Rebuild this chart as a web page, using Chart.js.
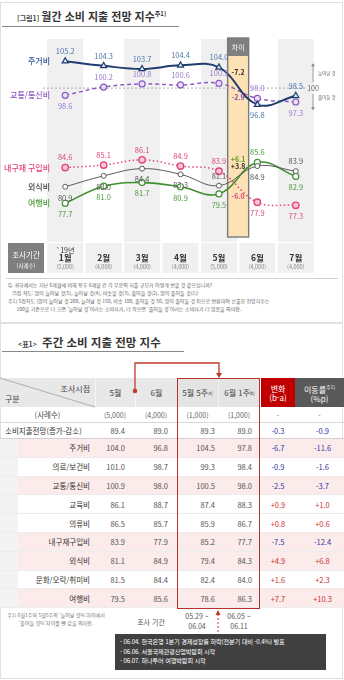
<!DOCTYPE html>
<html lang="ko">
<head>
<meta charset="utf-8">
<script src="https://cdn.jsdelivr.net/npm/chart.js@4.4.1/dist/chart.umd.min.js"></script>
<style>
  body { margin: 0; width: 344px; height: 680px; background: #fff; position: relative; overflow: hidden;
         font-family: "Noto Sans CJK KR", "Noto Sans", sans-serif; color: #333; }
  .abs { position: absolute; }
  .frame { position: absolute; left: 0; width: 343px; border: 1px solid #e0e0e0; box-sizing: border-box; }
  .title { position: absolute; white-space: nowrap; font-weight: bold; color: #333; }
  .title small { font-size: 7px; font-weight: bold; color: #444; margin-right: 2px; }
  .title sup { font-size: 6px; }
  .notes { position: absolute; left: 8px; top: 281px; font-size: 5px; line-height: 8px; color: #666; white-space: nowrap; }
  .row { position: absolute; left: 0; width: 344px; }
  .c { position: absolute; top: 0; height: 100%; display: flex; align-items: center; box-sizing: border-box;
       font-size: 7.5px; color: #555; white-space: nowrap; }
  .hd { color: #444; font-size: 8px; justify-content: center; }
  .hd sup { font-size: 5px; }
  .pos { color: #d03030; }
  .neg { color: #3535a8; }
  #events { position: absolute; left: 115px; top: 634px; width: 211px; height: 36px; background: #404040; color: #fff;
            font-size: 6.2px; line-height: 9.5px; padding: 3px 5px; box-sizing: border-box; white-space: nowrap; letter-spacing: -0.15px; }
</style>
</head>
<body>
<div class="frame" style="top:2px;height:321px;"></div>
<div class="title" style="left:17px;top:8px;font-size:11px;"><small>[그림1]</small>월간 소비 지출 전망 지수<sup>주1)</sup></div>
<div class="abs" style="left:2px;top:26px;width:177px;height:1px;background:#888;"></div>
<canvas id="monthlyChart" class="abs" style="left:0;top:30px;" width="344" height="246"></canvas>
<div class="abs" style="left:6px;top:278px;width:332px;height:1px;background:#d0d0d0;"></div>
<div class="notes">
  Q. 귀하께서는 지난 6개월에 비해 향후 6개월 간 각 부문의 지출 규모가 어떻게 변할 것 같으십니까?<br>
  &nbsp;&nbsp;&nbsp;[5점 척도: 많이 늘어날 것(5), 늘어날 것(4), 비슷할 것(3), 줄어들 것(2), 많이 줄어들 것(1)]<br>
  주1) 5점척도 (많이 늘어날 것 200, 늘어날 것 150, 비슷 100, 줄어들 것 50, 많이 줄어들 것 0)으로 변환하여 산출한 전망지수는<br>
  &nbsp;&nbsp;&nbsp;&nbsp;&nbsp;&nbsp;100을 기준으로 더 크면 '늘어날 것'이라는 소비자가, 더 작으면 '줄어들 것'이라는 소비자가 더 많음을 의미함.
</div>

<div class="frame" style="top:323px;height:356px;"></div>
<div class="title" style="left:18px;top:334px;font-size:11.5px;"><small>&lt;표1&gt;</small> 주간 소비 지출 전망 지수</div>
<div class="abs" style="left:2px;top:351px;width:182px;height:1px;background:#888;"></div>
<div id="table"></div>
<div class="abs" style="left:177px;top:378px;width:83px;height:231px;border:1.5px solid #b8312f;box-sizing:border-box;"></div>

<div class="abs" style="left:4px;top:611px;width:104px;text-align:center;font-size:5px;line-height:7.5px;color:#777;">
  주1) 6월1주와 5월5주의 '늘어날 것%'차이에서<br>'줄어들 것%'차이를 뺀 값을 의미함.
</div>
<div class="abs" style="left:136px;top:617px;width:30px;text-align:center;font-size:7px;color:#555;">조사 기간</div>
<div class="abs" style="left:180px;top:611px;width:34px;text-align:center;font-size:7px;line-height:10px;color:#555;">05.29 ~<br>06.04</div>
<div class="abs" style="left:222px;top:611px;width:34px;text-align:center;font-size:7px;line-height:10px;color:#555;">06.05 ~<br>06.11</div>
<div id="events"></div>

<svg class="abs" style="left:0;top:0;" width="344" height="680">
  <line x1="0" y1="378" x2="95" y2="407" stroke="#a0a0a0" stroke-width="0.8"/>
  <polyline points="135,391 135,363 219,363 219,374" fill="none" stroke="#c0392b" stroke-width="1.3"/>
  <polygon points="216,373 222,373 219,378" fill="#c0392b"/>
  <circle cx="135" cy="391" r="2.3" fill="#c0392b"/>
  <line x1="218" y1="614" x2="218" y2="634" stroke="#c0392b" stroke-width="1" stroke-dasharray="2,2"/>
  <polygon points="215.5,615 220.5,615 218,610" fill="#c0392b"/>
</svg>

<script>
// monthly chart data
const months = ["1월", "2월", "3월", "4월", "5월", "6월", "7월"];
const yearLabel = "`19년";
const sampleSizes = ["(5,000)", "(4,000)", "(4,000)", "(4,000)", "(5,000)", "(4,000)", "(4,000)"];
const seriesNames = ["주거비", "교통/통신비", "내구재 구입비", "외식비", "여행비"];
const housing = [105.2, 104.3, 103.7, 104.4, 104.0, 96.8, 98.5];
const transport = [98.6, 100.2, 100.8, 100.6, 100.9, 98.0, 97.3];
const durables = [84.6, 85.1, 86.1, 84.9, 83.9, 77.9, 77.3];
const dining = [80.9, 83.0, 84.4, 83.3, 81.1, 84.9, 83.9];
const travel = [77.7, 81.0, 81.7, 80.9, 79.5, 85.6, 82.9];
const diffLabels = ["-7.2", "-2.9", "-6.0", "+3.8", "+6.1"];

// weekly table data
const tableRows = ["소비지출전망(증가-감소)", "주거비", "의료/보건비", "교통/통신비", "교육비", "의류비",
  "내구재구입비", "외식비", "문화/오락/취미비", "여행비"];
const tableCounts = ["(5,000)", "(4,000)", "(1,000)", "(1,000)", "-", "-"];
const mayMonth = [89.4, 104.0, 101.0, 100.9, 86.1, 86.5, 83.9, 81.1, 81.5, 79.5];
const junMonth = [89.0, 96.8, 98.7, 98.0, 88.7, 85.7, 77.9, 84.9, 84.4, 85.6];
const mayWeek5 = [89.3, 104.5, 99.3, 100.5, 87.4, 85.9, 85.2, 79.4, 82.4, 78.6];
const junWeek1 = [89.0, 97.8, 98.4, 98.0, 88.3, 86.7, 77.7, 84.3, 84.0, 86.3];
const change = ["-0.3", "-6.7", "-0.9", "-2.5", "+0.9", "+0.8", "-7.5", "+4.9", "+1.6", "+7.7"];
const moveRate = ["-0.9", "-11.6", "-1.6", "-3.7", "+1.0", "+0.6", "-12.4", "+6.8", "+2.3", "+10.3"];
const events = [
  "- 06.04. 한국은행 1분기 경제성장률 하락(전분기 대비 -0.4%) 발표",
  "- 06.06. 서울국제관광산업박람회 시작",
  "- 06.07. 하나투어 여행박람회 시작"
];

const FONT = '"Noto Sans CJK KR", sans-serif';
const lineColors = ["#1f3d6e", "#8a5bc4", "#e0457b", "#5a5a5a", "#3f8f2f"];
const labelColors = ["#4a78ac", "#9a78cc", "#e0457b", "#555555", "#4a9a3a"];
const nameColors = ["#2f5597", "#8e5cc4", "#e8407a", "#404040", "#4a9a3a"];
const diffColors = ["#333333", "#8a4fa8", "#e0457b", "#333333", "#5a9a2a"];
// -1 = label above the point, 1 = below
const labelSide = [
  [-1, -1, -1, -1, -1, 1, -1],
  [1, -1, -1, -1, -1, -1, 1],
  [-1, -1, -1, -1, -1, 1, 1],
  [1, 1, 1, 1, -1, 1, -1],
  [1, 1, 1, 1, 1, -1, 1]
];
const diffAnchor = [103.0, 98.2, 79.1, 84.9, 86.2];

// bands, diff box, month row and labels
const decor = {
  id: "decor",
  beforeDatasetsDraw(chart) {
    const { ctx, chartArea: a, scales: { x, y } } = chart;
    const step = x.getPixelForValue(1) - x.getPixelForValue(0);
    ctx.save();
    ctx.fillStyle = "#f0f0f0";
    months.forEach((m, i) => {
      if (i % 2 === 0) ctx.fillRect(x.getPixelForValue(i) - step / 2 + 1.2, a.top, step - 2.4, a.bottom - a.top);
    });

    // 100 reference line
    const y100 = y.getPixelForValue(100);
    ctx.strokeStyle = "#9a9a9a";
    ctx.lineWidth = 0.8;
    ctx.setLineDash([2, 2]);
    ctx.beginPath();
    ctx.moveTo(a.left - 3, y100);
    ctx.lineTo(a.right - 8, y100);
    ctx.stroke();
    ctx.setLineDash([]);

    // right side arrow
    const ax = a.right - 2;
    ctx.strokeStyle = "#888";
    ctx.fillStyle = "#888";
    ctx.lineWidth = 0.8;
    const yTop = y.getPixelForValue(104.8), yBot = y.getPixelForValue(95.7);
    ctx.beginPath();
    ctx.moveTo(ax, yTop + 2); ctx.lineTo(ax, y100 - 6);
    ctx.moveTo(ax, y100 + 6); ctx.lineTo(ax, yBot - 2);
    ctx.stroke();
    ctx.beginPath();
    ctx.moveTo(ax - 2, yTop + 3); ctx.lineTo(ax + 2, yTop + 3); ctx.lineTo(ax, yTop); ctx.fill();
    ctx.beginPath();
    ctx.moveTo(ax - 2, yBot - 3); ctx.lineTo(ax + 2, yBot - 3); ctx.lineTo(ax, yBot); ctx.fill();
    ctx.fillStyle = "#666";
    ctx.font = "7px " + FONT;
    ctx.textAlign = "center";
    ctx.textBaseline = "middle";
    ctx.fillText("100", ax, y100);
    ctx.font = "4.5px " + FONT;
    ctx.textAlign = "left";
    ctx.fillText("늘어날 것", ax + 5, y.getPixelForValue(102.9));
    ctx.fillText("줄어들 것", ax + 5, y.getPixelForValue(98.2));

    // diff box between May and June
    const cx = (x.getPixelForValue(4) + x.getPixelForValue(5)) / 2;
    const top = a.top - 1, bottom = a.bottom - 5;
    ctx.fillStyle = "#fde2b6";
    ctx.fillRect(cx - 10.5, top, 21, bottom - top);
    ctx.fillStyle = "#808080";
    ctx.fillRect(cx - 10.5, top, 21, 18);
    ctx.strokeStyle = "#7a7a7a";
    ctx.lineWidth = 1.4;
    ctx.strokeRect(cx - 10.5, top, 21, bottom - top);
    ctx.fillStyle = "#fff";
    ctx.font = "7px " + FONT;
    ctx.textAlign = "center";
    ctx.fillText("차이", cx, top + 9);

    // month row
    const rowTop = a.bottom + 1, rowH = 30;
    ctx.fillStyle = "#7f7f7f";
    ctx.fillRect(8, rowTop, 36, rowH);
    ctx.fillStyle = "#fff";
    ctx.font = "7.5px " + FONT;
    ctx.fillText("조사기간", 26, rowTop + 12);
    ctx.font = "5.5px " + FONT;
    ctx.fillText("(사례수)", 26, rowTop + 23);
    months.forEach((m, i) => {
      const px = x.getPixelForValue(i);
      ctx.fillStyle = "#f0f0f0";
      ctx.fillRect(px - step / 2 + 1.2, rowTop, step - 2.4, rowH);
      if (i === 0) {
        ctx.fillStyle = "#333";
        ctx.font = "7px " + FONT;
        ctx.fillText(yearLabel, px, rowTop + 7);
      }
      ctx.fillStyle = "#333";
      ctx.font = "bold 8.5px " + FONT;
      ctx.fillText(m, px, rowTop + 15);
      ctx.fillStyle = "#888";
      ctx.font = "5.5px " + FONT;
      ctx.fillText(sampleSizes[i], px, rowTop + 24);
    });
    ctx.restore();
  },
  afterDatasetsDraw(chart) {
    const { ctx, chartArea: a, scales: { x, y } } = chart;
    ctx.save();
    ctx.textAlign = "center";
    ctx.textBaseline = "middle";
    chart.data.datasets.forEach((ds, di) => {
      const meta = chart.getDatasetMeta(di);
      ctx.fillStyle = labelColors[di];
      ctx.font = "7.5px " + FONT;
      meta.data.forEach((pt, i) => {
        const side = labelSide[di][i];
        ctx.fillText(ds.data[i].toFixed(1), pt.x, pt.y + (side < 0 ? -10 : 11));
      });
      // series name on the left
      ctx.textAlign = "right";
      ctx.fillStyle = nameColors[di];
      ctx.font = "500 8px " + FONT;
      ctx.fillText(seriesNames[di], a.left + 4, y.getPixelForValue(ds.data[0]));
      ctx.textAlign = "center";
    });
    // diff values in the box
    const cx = (x.getPixelForValue(4) + x.getPixelForValue(5)) / 2;
    diffLabels.forEach((t, i) => {
      const order = [0, 1, 2, 3, 4][i];
      ctx.fillStyle = diffColors[order];
      ctx.font = "bold 7px " + FONT;
      ctx.fillText(t, cx, y.getPixelForValue(diffAnchor[i]));
    });
    ctx.restore();
  }
};

new Chart(document.getElementById("monthlyChart"), {
  type: "line",
  data: {
    labels: months,
    datasets: [
      { label: seriesNames[0], data: housing, borderColor: lineColors[0], borderWidth: 2, tension: 0.4,
        pointStyle: "triangle", pointRadius: 3.5, pointBackgroundColor: "#dce6f2", pointBorderColor: lineColors[0], pointBorderWidth: 1.2 },
      { label: seriesNames[1], data: transport, borderColor: lineColors[1], borderWidth: 1.5, borderDash: [4, 3], tension: 0.4,
        pointRadius: 3, pointBackgroundColor: "#eadff7", pointBorderColor: lineColors[1], pointBorderWidth: 1.2 },
      { label: seriesNames[2], data: durables, borderColor: lineColors[2], borderWidth: 1.5, borderDash: [1.5, 2.5], tension: 0.4,
        pointRadius: 3.2, pointBackgroundColor: "#f7c6d8", pointBorderColor: lineColors[2], pointBorderWidth: 1.4 },
      { label: seriesNames[3], data: dining, borderColor: lineColors[3], borderWidth: 1, tension: 0.4,
        pointRadius: 2.5, pointBackgroundColor: "#fff", pointBorderColor: lineColors[3], pointBorderWidth: 1 },
      { label: seriesNames[4], data: travel, borderColor: lineColors[4], borderWidth: 1.6, tension: 0.4,
        pointRadius: 3, pointBackgroundColor: "#fff", pointBorderColor: lineColors[4], pointBorderWidth: 1.2 }
    ]
  },
  options: {
    responsive: false,
    animation: false,
    devicePixelRatio: 1,
    layout: { padding: { left: 46, right: 29, top: 9, bottom: 34 } },
    plugins: { legend: { display: false }, tooltip: { enabled: false } },
    scales: {
      x: { display: false, offset: true },
      y: { display: false, min: 70.2, max: 109.5 }
    }
  },
  plugins: [decor]
});

// weekly table
const colLeft = [0, 95, 135, 177, 218, 261, 295];
const colWidth = [95, 40, 42, 41, 42, 34, 49];
const valuePad = [0, 10, 9, 3, 8];
const highlighted = ["주거비", "교통/통신비", "내구재구입비", "외식비", "여행비"];

function addRow(top, height, extraStyle) {
  const row = document.createElement("div");
  row.className = "row";
  row.style.top = top + "px";
  row.style.height = height + "px";
  if (extraStyle) row.style.cssText += extraStyle;
  document.getElementById("table").appendChild(row);
  return row;
}

function addCell(row, col, html, style, cls) {
  const c = document.createElement("div");
  c.className = "c" + (cls ? " " + cls : "");
  c.style.left = colLeft[col] + "px";
  c.style.width = colWidth[col] + "px";
  if (style) c.style.cssText += style;
  c.innerHTML = html;
  row.appendChild(c);
  return c;
}

const head = addRow(378, 29);
addCell(head, 0, '<span style="position:absolute;right:5px;top:5px;">조사시점</span><span style="position:absolute;left:5px;bottom:3px;">구분</span>',
  "background:#e8e8e8;", "hd");
addCell(head, 1, "5월", "background:#e8e8e8;border-left:1px solid #f6f6f6;", "hd");
addCell(head, 2, "6월", "background:#e8e8e8;border-left:1px solid #f6f6f6;", "hd");
addCell(head, 3, "5월 5주<sup>a)</sup>", "background:#e4e4e4;", "hd");
addCell(head, 4, "6월 1주<sup>b)</sup>", "background:#e4e4e4;border-left:1px solid #f2f2f2;", "hd");
addCell(head, 5, '<div style="text-align:center;line-height:9px;">변화<br>(b-a)</div>', "background:#c00000;color:#fff;", "hd");
addCell(head, 6, '<div style="text-align:center;line-height:9px;">이동률<sup>주1)</sup><br>(%p)</div>', "background:#595959;color:#fff;", "hd");

const counts = addRow(407, 16, "border-bottom:1px solid #d8d8d8;box-sizing:border-box;");
addCell(counts, 0, "(사례수)", "justify-content:center;color:#444;");
tableCounts.forEach((t, i) => addCell(counts, i + 1, t, "justify-content:center;color:#666;font-size:7px;"));

tableRows.forEach((name, r) => {
  const isTotal = r === 0;
  const top = isTotal ? 423 : 439 + (r - 1) * 18.8;
  const h = isTotal ? 16 : 18.8;
  const pink = highlighted.includes(name);
  const row = addRow(top, h, "border-bottom:1px solid " + (isTotal ? "#d0d0d0" : "#ececec") + ";box-sizing:border-box;" +
    (isTotal ? "" : "background:linear-gradient(to right,#f3f3f3 18px," + (pink ? "#fcebeb" : "#fff") + " 18px);"));
  if (isTotal) addCell(row, 0, name, "padding-left:5px;color:#333;");
  else addCell(row, 0, name, "justify-content:flex-end;padding-right:5px;color:#333;");
  [mayMonth, junMonth, mayWeek5, junWeek1].forEach((arr, k) => {
    addCell(row, k + 1, arr[r].toFixed(1), "justify-content:flex-end;padding-right:" + valuePad[k + 1] + "px;");
  });
  addCell(row, 5, change[r], "justify-content:center;", change[r].startsWith("-") ? "neg" : "pos");
  addCell(row, 6, moveRate[r], "justify-content:center;padding-left:6px;", moveRate[r].startsWith("-") ? "neg" : "pos");
});

document.getElementById("events").innerHTML = events.join("<br>");
</script>
</body>
</html>
